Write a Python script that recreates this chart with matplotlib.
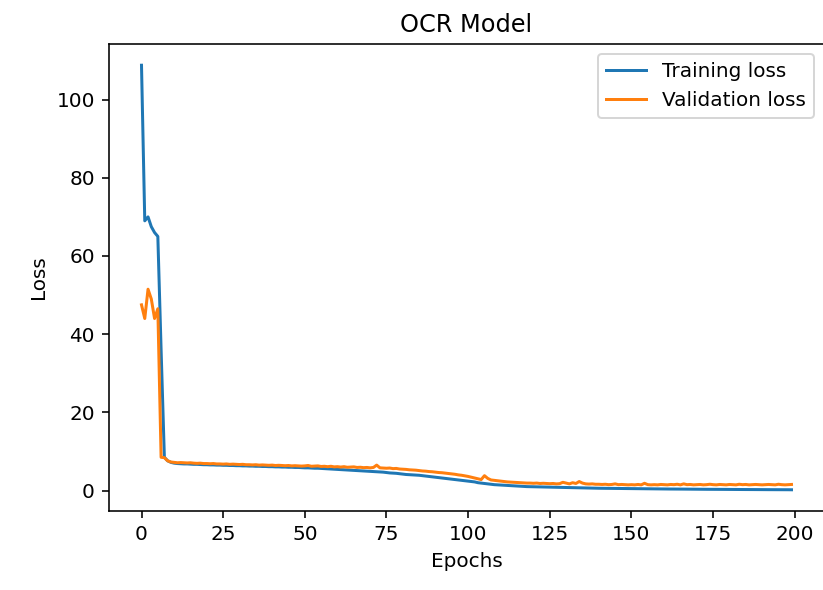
import matplotlib
matplotlib.use("Agg")
import matplotlib.pyplot as plt

training_loss = [
    108.8, 69.0, 70.0, 67.5, 66.0, 65.0, 36.0, 8.5, 7.6, 7.2,
    7.0, 6.9, 6.85, 6.8, 6.8, 6.75, 6.7, 6.7, 6.65, 6.6,
    6.6, 6.55, 6.55, 6.5, 6.5, 6.45, 6.45, 6.4, 6.4, 6.35,
    6.35, 6.3, 6.3, 6.25, 6.25, 6.2, 6.2, 6.15, 6.15, 6.1,
    6.1, 6.05, 6.05, 6.0, 6.0, 5.95, 5.95, 5.9, 5.9, 5.85,
    5.8, 5.8, 5.75, 5.7, 5.7, 5.65, 5.6, 5.55, 5.5, 5.45,
    5.4, 5.35, 5.3, 5.25, 5.2, 5.15, 5.1, 5.05, 5.0, 4.95,
    4.9, 4.85, 4.8, 4.75, 4.7, 4.6, 4.5, 4.45, 4.4, 4.3,
    4.2, 4.1, 4.05, 4.0, 3.95, 3.9, 3.8, 3.7, 3.6, 3.5,
    3.4, 3.3, 3.2, 3.1, 3.0, 2.9, 2.8, 2.7, 2.6, 2.5,
    2.4, 2.3, 2.2, 2.0, 1.9, 1.8, 1.7, 1.6, 1.5, 1.45,
    1.4, 1.35, 1.3, 1.25, 1.2, 1.15, 1.1, 1.05, 1.0, 0.98,
    0.95, 0.92, 0.9, 0.88, 0.86, 0.84, 0.82, 0.8, 0.78, 0.76,
    0.74, 0.72, 0.7, 0.68, 0.66, 0.65, 0.64, 0.62, 0.6, 0.59,
    0.58, 0.57, 0.56, 0.55, 0.54, 0.53, 0.52, 0.51, 0.5, 0.49,
    0.48, 0.47, 0.46, 0.45, 0.44, 0.43, 0.42, 0.42, 0.41, 0.4,
    0.4, 0.39, 0.38, 0.38, 0.37, 0.36, 0.36, 0.35, 0.34, 0.34,
    0.33, 0.33, 0.32, 0.31, 0.31, 0.3, 0.3, 0.29, 0.29, 0.28,
    0.28, 0.27, 0.27, 0.26, 0.26, 0.25, 0.25, 0.24, 0.24, 0.23,
    0.23, 0.22, 0.22, 0.22, 0.21, 0.21, 0.2, 0.2, 0.2, 0.19,
]

validation_loss = [
    47.5, 44.0, 51.5, 49.0, 44.0, 46.5, 8.5, 8.4, 7.6, 7.3,
    7.2, 7.1, 7.15, 7.1, 7.05, 7.1, 7.0, 6.95, 7.0, 6.9,
    6.9, 6.85, 6.9, 6.8, 6.8, 6.75, 6.8, 6.7, 6.75, 6.7,
    6.65, 6.7, 6.6, 6.6, 6.55, 6.6, 6.5, 6.55, 6.5, 6.45,
    6.5, 6.4, 6.45, 6.4, 6.35, 6.4, 6.3, 6.35, 6.3, 6.25,
    6.3, 6.4, 6.2, 6.25, 6.3, 6.15, 6.2, 6.1, 6.2, 6.05,
    6.1, 6.0, 6.1, 5.95, 6.0, 6.05, 5.9, 5.95, 5.85, 5.9,
    5.8, 5.9, 6.5, 5.8, 5.75, 5.7, 5.75, 5.6, 5.65, 5.5,
    5.45, 5.4, 5.3, 5.25, 5.2, 5.1, 5.0, 4.95, 4.85, 4.8,
    4.7, 4.6, 4.55, 4.45, 4.35, 4.25, 4.15, 4.0, 3.9, 3.75,
    3.6, 3.4, 3.2, 3.0, 2.8, 3.8, 3.1, 2.7, 2.6, 2.5,
    2.4, 2.3, 2.2, 2.15, 2.1, 2.05, 2.0, 1.95, 1.9, 1.9,
    1.85, 1.9, 1.8, 1.85, 1.8, 1.75, 1.8, 1.7, 1.75, 2.1,
    1.9, 1.7, 2.0, 1.8, 2.3, 1.9, 1.7, 1.65, 1.7, 1.6,
    1.6, 1.55, 1.6, 1.5, 1.55, 1.7, 1.5, 1.55, 1.5, 1.45,
    1.5, 1.45, 1.55, 1.45, 1.85, 1.5, 1.45, 1.5, 1.45, 1.55,
    1.5, 1.45, 1.55, 1.5, 1.6, 1.45, 1.7, 1.5, 1.55, 1.45,
    1.5, 1.55, 1.45, 1.5, 1.6, 1.5, 1.45, 1.55, 1.5, 1.45,
    1.55, 1.5, 1.45, 1.6, 1.5, 1.55, 1.45, 1.5, 1.55, 1.5,
    1.45, 1.5, 1.55, 1.5, 1.45, 1.6, 1.5, 1.45, 1.5, 1.55,
]

epochs = list(range(len(training_loss)))

W, H = 823, 590
DPI = 144
fig = plt.figure(figsize=(W / DPI, H / DPI), dpi=DPI)
ax = fig.add_axes([109 / W, 1 - 511 / H, (824 - 109) / W, (511 - 44) / H])
ax.plot(epochs, training_loss, label="Training loss")
ax.plot(epochs, validation_loss, label="Validation loss")
ax.spines["right"].set_visible(False)
ax.set_title("OCR Model")
ax.set_xlabel("Epochs")
ax.set_ylabel("Loss")
ax.legend(loc="upper right")
fig.savefig("out.png", dpi=DPI)
